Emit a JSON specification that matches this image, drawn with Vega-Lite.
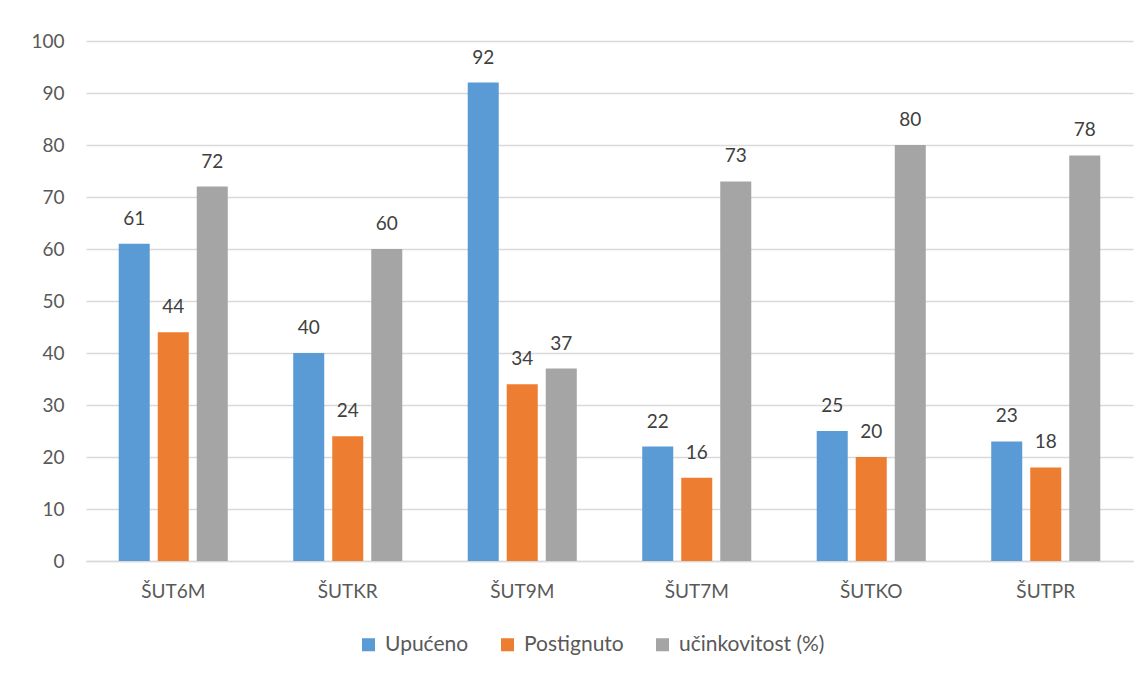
{
  "$schema": "https://vega.github.io/schema/vega-lite/v6.json",
  "width": 1047,
  "height": 520,
  "autosize": "none",
  "padding": {"left": 86, "top": 41, "right": 14, "bottom": 116},
  "background": "white",
  "config": {
    "font": "Lato",
    "view": {"stroke": null},
    "axis": {"labelFont": "Lato", "labelFontSize": 19, "labelColor": "#595959", "ticks": false, "title": null, "labelOverlap": false},
    "legend": {"labelFont": "Lato", "labelFontSize": 21, "labelColor": "#595959"}
  },
  "data": {
    "values": [
      {"kat": "ŠUT6M", "serija": "Upućeno", "vrijednost": 61},
      {"kat": "ŠUT6M", "serija": "Postignuto", "vrijednost": 44},
      {"kat": "ŠUT6M", "serija": "učinkovitost (%)", "vrijednost": 72},
      {"kat": "ŠUTKR", "serija": "Upućeno", "vrijednost": 40},
      {"kat": "ŠUTKR", "serija": "Postignuto", "vrijednost": 24},
      {"kat": "ŠUTKR", "serija": "učinkovitost (%)", "vrijednost": 60},
      {"kat": "ŠUT9M", "serija": "Upućeno", "vrijednost": 92},
      {"kat": "ŠUT9M", "serija": "Postignuto", "vrijednost": 34},
      {"kat": "ŠUT9M", "serija": "učinkovitost (%)", "vrijednost": 37},
      {"kat": "ŠUT7M", "serija": "Upućeno", "vrijednost": 22},
      {"kat": "ŠUT7M", "serija": "Postignuto", "vrijednost": 16},
      {"kat": "ŠUT7M", "serija": "učinkovitost (%)", "vrijednost": 73},
      {"kat": "ŠUTKO", "serija": "Upućeno", "vrijednost": 25},
      {"kat": "ŠUTKO", "serija": "Postignuto", "vrijednost": 20},
      {"kat": "ŠUTKO", "serija": "učinkovitost (%)", "vrijednost": 80},
      {"kat": "ŠUTPR", "serija": "Upućeno", "vrijednost": 23},
      {"kat": "ŠUTPR", "serija": "Postignuto", "vrijednost": 18},
      {"kat": "ŠUTPR", "serija": "učinkovitost (%)", "vrijednost": 78}
    ]
  },
  "encoding": {
    "x": {
      "field": "kat", "type": "nominal", "sort": null,
      "scale": {"paddingInner": 0.375, "paddingOuter": 0.1875},
      "axis": {"labelAngle": 0, "labelPadding": 21, "domain": true, "domainColor": "#D9D9D9", "domainWidth": 1.5, "grid": false}
    },
    "xOffset": {
      "field": "serija", "type": "nominal",
      "sort": ["Upućeno", "Postignuto", "učinkovitost (%)"],
      "scale": {"paddingInner": 0.205, "paddingOuter": 0}
    },
    "y": {
      "field": "vrijednost", "type": "quantitative",
      "scale": {"domain": [0, 100], "nice": false},
      "axis": {"values": [0,10,20,30,40,50,60,70,80,90,100], "domain": false, "grid": true, "gridColor": "#D9D9D9", "gridWidth": 1.5, "labelPadding": 22}
    }
  },
  "layer": [
    {
      "mark": {"type": "bar"},
      "encoding": {
        "color": {
          "field": "serija", "type": "nominal",
          "sort": ["Upućeno", "Postignuto", "učinkovitost (%)"],
          "scale": {"domain": ["Upućeno", "Postignuto", "učinkovitost (%)"], "range": ["#5B9BD5", "#ED7D31", "#A5A5A5"]},
          "legend": {
            "title": null, "orient": "none", "legendX": 272, "legendY": 593, "direction": "horizontal",
            "symbolType": "square", "symbolSize": 170, "symbolStrokeWidth": 0,
            "columnPadding": 28, "labelOffset": 6
          }
        }
      }
    },
    {
      "mark": {"type": "text", "baseline": "alphabetic", "dy": -19, "fontSize": 19, "color": "#404040", "font": "Lato"},
      "encoding": {
        "text": {"field": "vrijednost", "type": "quantitative"}
      }
    }
  ]
}
